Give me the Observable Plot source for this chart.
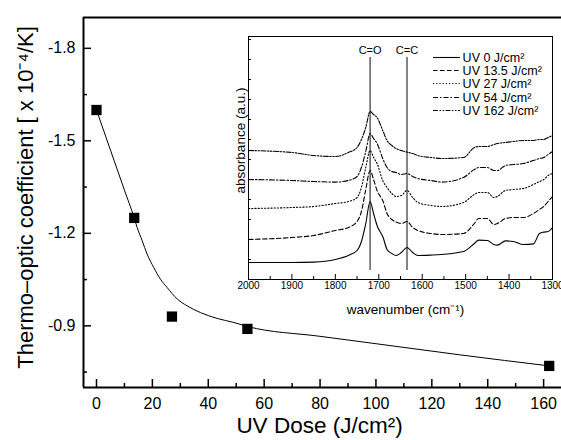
<!DOCTYPE html>
<html>
<head>
<meta charset="utf-8">
<script src="https://cdn.jsdelivr.net/npm/d3@7"></script>
<script src="https://cdn.jsdelivr.net/npm/@observablehq/plot@0.6"></script>
<style>
  html, body { margin: 0; padding: 0; background: #fff; }
  #wrap { position: relative; width: 561px; height: 440px; overflow: hidden; }
  #wrap svg { position: absolute; }
</style>
</head>
<body>
<div id="wrap"></div>
<script>
// ---- main chart data ----
const doses = [0, 13.5, 27, 54, 162];
const coeffs = [-1.60, -1.25, -0.93, -0.89, -0.77];
const fitDose = [0, 5, 10, 13.5, 14.55, 16.35, 18.1, 20.5, 22.9, 25.3, 28.9, 32.4, 37.2, 43.2, 49.1, 54, 80, 100, 130, 162];
const fitCoeff = [-1.60, -1.47, -1.34, -1.25, -1.219, -1.176, -1.133, -1.089, -1.051, -1.024, -0.987, -0.965, -0.943, -0.924, -0.911, -0.898, -0.866, -0.842, -0.806, -0.77];
const xMajor = [0, 20, 40, 60, 80, 100, 120, 140, 160];
const xMinor = [10, 30, 50, 70, 90, 110, 130, 150];
const yMajor = [-1.8, -1.5, -1.2, -0.9];
const yMinor = [-1.65, -1.35, -1.05, -0.75];

// ---- inset spectra data ----
const wavenumber = [2000, 1900, 1850, 1800, 1770, 1750, 1740, 1730, 1720, 1712, 1704, 1690, 1681, 1670, 1660, 1648, 1635, 1622, 1610, 1580, 1555, 1505, 1480, 1470, 1450, 1435, 1427, 1408, 1390, 1367, 1344, 1330, 1320, 1310, 1300];
const abs0   = [0.85, 0.85, 0.87, 1.0, 1.2, 1.45, 1.9, 2.8, 3.9, 3.3, 2.7, 2.1, 1.5, 1.3, 1.2, 1.35, 1.6, 1.35, 1.2, 1.22, 1.25, 1.4, 1.8, 1.97, 1.95, 1.75, 1.72, 1.93, 1.9, 1.75, 1.78, 2.3, 2.37, 2.4, 2.6];
const abs13  = [2.0, 2.1, 2.2, 2.45, 2.6, 2.9, 3.4, 4.5, 5.45, 5.0, 4.45, 3.9, 3.3, 3.0, 2.87, 2.8, 2.9, 2.6, 2.45, 2.3, 2.25, 2.3, 2.8, 3.05, 3.05, 2.75, 2.8, 3.05, 3.1, 3.1, 3.3, 3.5, 3.65, 3.9, 4.15];
const abs27  = [3.55, 3.6, 3.65, 3.8, 3.9, 4.1, 4.6, 5.6, 6.45, 6.1, 5.8, 4.9, 4.6, 4.3, 4.15, 4.2, 4.45, 4.1, 3.85, 3.7, 3.65, 3.85, 4.25, 4.35, 4.35, 4.1, 4.15, 4.45, 4.5, 4.55, 4.75, 4.9, 5.0, 5.2, 5.3];
const abs54  = [5.0, 4.95, 4.9, 4.87, 4.95, 5.15, 5.6, 6.4, 7.3, 7.05, 6.8, 6.0, 5.6, 5.4, 5.35, 5.25, 5.3, 5.15, 5.05, 4.95, 4.87, 5.1, 5.5, 5.6, 5.6, 5.45, 5.45, 5.7, 5.75, 5.8, 5.95, 6.05, 6.1, 6.25, 6.4];
const abs162 = [6.45, 6.35, 6.2, 6.15, 6.35, 6.6, 7.0, 7.6, 8.4, 8.25, 8.1, 7.4, 6.95, 6.7, 6.55, 6.45, 6.37, 6.3, 6.2, 6.1, 6.05, 6.1, 6.6, 6.65, 6.65, 6.75, 6.8, 6.85, 6.9, 6.95, 6.95, 7.0, 7.0, 7.1, 7.2];
const seriesLabels = ["UV 0 J/cm²", "UV 13.5 J/cm²", "UV 27 J/cm²", "UV 54 J/cm²", "UV 162 J/cm²"];
const seriesValues = [abs0, abs13, abs27, abs54, abs162];
const bandNames = ["C=O", "C=C"];
const bandWavenumbers = [1720, 1635];
const wnMajor = [2000, 1900, 1800, 1700, 1600, 1500, 1400, 1300];
const wnMinor = [1950, 1850, 1750, 1650, 1550, 1450, 1350];
const auTicks = [1, 2, 3, 4, 5, 6, 7, 8, 9, 10, 11, 12];

const FONT = "'Liberation Sans', Arial, Helvetica, sans-serif";
const wrap = document.getElementById("wrap");

// ---------------- main chart ----------------
const W = 561, H = 440, mL = 83, mR = 0, mT = 17, mB = 53;
const fw = W - mL - mR, fh = H - mT - mB;
const xDom = [-4.65, 166.4];
const yDom = [-0.7, -1.9];

const pts = doses.map((d, i) => ({dose: d, c: coeffs[i]}));
const fit = fitDose.map((d, i) => ({dose: d, c: fitCoeff[i]}));

const main = Plot.plot({
  width: W, height: H,
  marginLeft: mL, marginRight: mR, marginTop: mT, marginBottom: mB,
  x: {domain: xDom, axis: null},
  y: {domain: yDom, axis: null},
  style: {fontFamily: FONT, background: "white", color: "black", overflow: "visible"},
  marks: [
    Plot.ruleX(xMajor, {insetTop: fh - 8, strokeWidth: 1.5}),
    Plot.ruleX(xMinor, {insetTop: fh - 4, strokeWidth: 1.5}),
    Plot.ruleY(yMajor, {insetRight: fw - 8, strokeWidth: 1.5}),
    Plot.ruleY(yMinor, {insetRight: fw - 4, strokeWidth: 1.5}),
    Plot.axisX(xMajor, {tickSize: 0, tickPadding: 10, fontSize: 16, tickFormat: d => String(d), label: null}),
    Plot.axisY(yMajor, {tickSize: 0, tickPadding: 8, fontSize: 16, tickFormat: d => d.toFixed(1), label: null}),
    Plot.ruleX([xDom[0]], {strokeWidth: 2}),
    Plot.ruleY([yDom[0]], {strokeWidth: 2}),
    Plot.ruleY([yDom[1]], {strokeWidth: 2}),
    Plot.line(fit, {x: "dose", y: "c", curve: "monotone-x", stroke: "black", strokeWidth: 1}),
    Plot.dot(pts, {x: "dose", y: "c", symbol: "square", r: 5.8, fill: "black", stroke: "none"}),
    Plot.text(["Thermo–optic coefficient [ x 10⁻⁴/K]"], {frameAnchor: "left", textAnchor: "middle", lineAnchor: "middle", dx: -58, dy: -5, rotate: -90, fontSize: 22}),
    Plot.text(["UV Dose (J/cm²)"], {frameAnchor: "bottom", textAnchor: "middle", lineAnchor: "middle", dx: -3, dy: 38, fontSize: 22.5})
  ]
});
main.style.left = "0px";
main.style.top = "0px";
wrap.appendChild(main);

// ---------------- inset chart ----------------
const iW = 343, iH = 296, iL = 30, iR = 9, iT = 10, iB = 43;
const ifw = iW - iL - iR, ifh = iH - iT - iB;
const dashes = [null, "4.5,2.5", "1.2,2", "5,2,1.5,2", "5,1.5,1.5,1.5,1.5,1.5"];
const legendRows = [11.1, 10.45, 9.8, 9.1, 8.45];

const specMarks = [];
seriesValues.forEach((vals, k) => {
  const data = wavenumber.map((w, i) => ({w, a: vals[i]}));
  const opts = {x: "w", y: "a", curve: "monotone-x", stroke: "black", strokeWidth: 1.1};
  if (dashes[k]) opts.strokeDasharray = dashes[k];
  specMarks.push(Plot.line(data, opts));
  const lopts = {y: legendRows[k], x1: 1574, x2: 1512, stroke: "black", strokeWidth: 1.1};
  if (dashes[k]) lopts.strokeDasharray = dashes[k];
  specMarks.push(Plot.ruleY([0], lopts));
});

const bands = bandNames.map((n, i) => ({name: n, w: bandWavenumbers[i]}));
const legend = seriesLabels.map((l, i) => ({label: l, row: legendRows[i]}));

const inset = Plot.plot({
  width: iW, height: iH,
  marginLeft: iL, marginRight: iR, marginTop: iT, marginBottom: iB,
  x: {domain: [2000, 1300], axis: null},
  y: {domain: [0, 12.15], axis: null},
  style: {fontFamily: FONT, background: "transparent", color: "black", overflow: "hidden"},
  marks: [
    Plot.frame({fill: "white", stroke: "black", strokeWidth: 1}),
    Plot.ruleX(wnMajor, {insetTop: ifh - 5, strokeWidth: 1}),
    Plot.ruleX(wnMinor, {insetTop: ifh - 3, strokeWidth: 1}),
    Plot.ruleY(auTicks, {insetRight: ifw - 3, strokeWidth: 1}),
    Plot.axisX(wnMajor, {tickSize: 0, tickPadding: 2, fontSize: 10, tickFormat: d => String(d), label: null}),
    Plot.ruleX(bands, {x: "w", y1: 0.45, y2: 11.1, stroke: "#333", strokeWidth: 1.2}),
    Plot.text(bands, {x: "w", y: 11.45, text: "name", fontSize: 11}),
    ...specMarks,
    Plot.text(legend, {x: 1507, y: "row", text: "label", textAnchor: "start", fontSize: 12.5}),
    Plot.text(["absorbance (a.u.)"], {frameAnchor: "top-left", textAnchor: "middle", lineAnchor: "middle", dx: -8, dy: 104, rotate: -90, fontSize: 13.5}),
    Plot.text(["wavenumber (cm⁻¹)"], {frameAnchor: "bottom", textAnchor: "middle", lineAnchor: "middle", dx: 5, dy: 30, fontSize: 13.5})
  ]
});
inset.style.left = "218px";
inset.style.top = "26px";
wrap.appendChild(inset);
</script>
</body>
</html>
